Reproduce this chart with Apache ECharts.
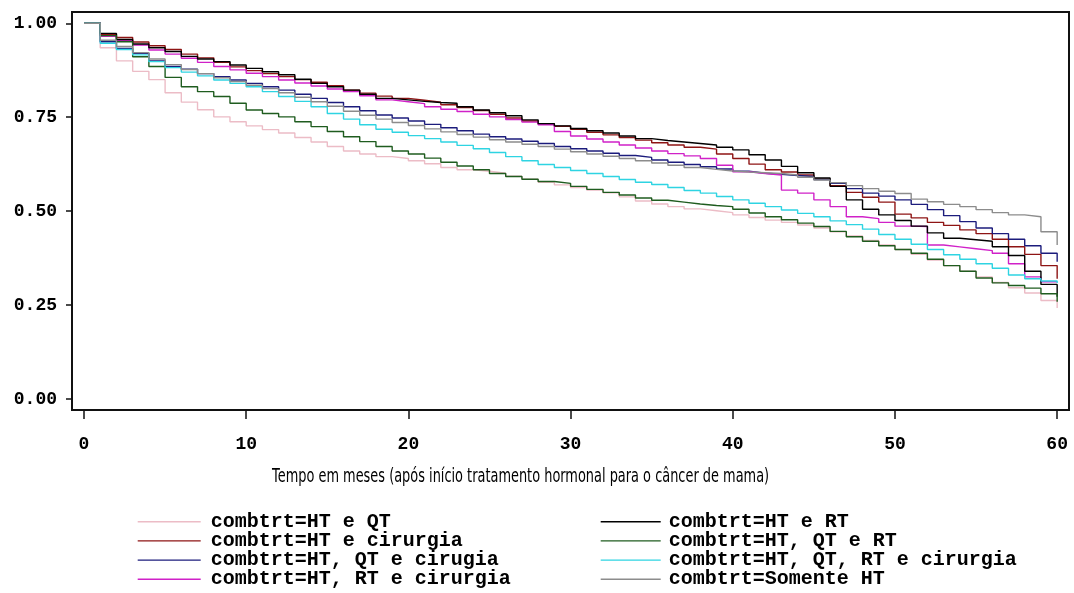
<!DOCTYPE html>
<html>
<head>
<meta charset="utf-8">
<script src="https://cdn.jsdelivr.net/npm/echarts@6/dist/echarts.min.js"></script>
<style>
html,body{margin:0;padding:0;background:#fff;}
#chart{width:1074px;height:593px;}
</style>
</head>
<body>
<div id="chart"></div>
<script>
// ---- data ----
const months = [0,1,2,3,4,5,6,7,8,9,10,11,12,13,14,15,16,17,18,19,20,21,22,23,24,25,26,27,28,29,30,
  31,32,33,34,35,36,37,38,39,40,41,42,43,44,45,46,47,48,49,50,51,52,53,54,55,56,57,58,59,60];

const htQt = [1.0,0.935,0.900,0.872,0.850,0.815,0.790,0.770,0.751,0.738,0.727,0.717,0.708,0.696,0.684,0.672,0.660,0.652,0.645,0.640,0.634,
  0.626,0.616,0.610,0.606,0.601,0.593,0.585,0.577,0.570,0.563,0.556,0.549,0.538,0.527,0.519,0.512,0.506,0.501,0.496,0.490,
  0.483,0.476,0.470,0.463,0.455,0.445,0.434,0.422,0.410,0.398,0.385,0.370,0.355,0.340,0.325,0.310,0.296,0.282,0.262,0.242];

const htCir = [1.0,0.970,0.962,0.950,0.940,0.930,0.918,0.908,0.896,0.884,0.874,0.866,0.858,0.850,0.843,0.834,0.822,0.814,0.806,0.800,0.795,
  0.790,0.783,0.776,0.768,0.758,0.748,0.740,0.732,0.726,0.718,0.710,0.703,0.696,0.689,0.682,0.676,0.670,0.665,0.652,0.640,
  0.625,0.610,0.604,0.596,0.585,0.568,0.550,0.537,0.524,0.492,0.482,0.470,0.462,0.450,0.440,0.425,0.405,0.385,0.355,0.320];

const htQtCir = [1.0,0.951,0.933,0.920,0.900,0.885,0.878,0.866,0.858,0.849,0.840,0.831,0.822,0.811,0.800,0.789,0.778,0.767,0.756,0.748,0.740,
  0.731,0.722,0.714,0.705,0.698,0.692,0.686,0.680,0.672,0.666,0.660,0.654,0.648,0.643,0.636,0.630,0.624,0.618,0.612,0.606,
  0.601,0.598,0.595,0.592,0.584,0.574,0.560,0.548,0.540,0.530,0.518,0.504,0.488,0.472,0.455,0.440,0.425,0.408,0.388,0.365];

const htRtCir = [1.0,0.965,0.955,0.942,0.929,0.918,0.907,0.896,0.885,0.876,0.867,0.858,0.849,0.841,0.833,0.825,0.818,0.807,0.796,0.791,0.786,
  0.778,0.771,0.765,0.758,0.751,0.744,0.737,0.730,0.712,0.700,0.692,0.684,0.676,0.668,0.660,0.653,0.647,0.640,0.622,0.605,
  0.600,0.596,0.556,0.548,0.530,0.512,0.485,0.480,0.470,0.460,0.459,0.410,0.405,0.400,0.395,0.388,0.360,0.325,0.312,0.312];

const htRt = [1.0,0.973,0.957,0.945,0.935,0.925,0.912,0.905,0.898,0.889,0.880,0.871,0.863,0.851,0.840,0.831,0.822,0.811,0.800,0.796,0.792,
  0.789,0.787,0.778,0.769,0.762,0.754,0.743,0.733,0.727,0.720,0.714,0.708,0.700,0.693,0.688,0.684,0.680,0.676,0.670,0.663,
  0.650,0.636,0.619,0.602,0.588,0.566,0.530,0.505,0.490,0.475,0.460,0.442,0.428,0.424,0.420,0.405,0.382,0.340,0.305,0.272];

const htQtRt = [1.0,0.967,0.951,0.911,0.885,0.856,0.831,0.818,0.805,0.787,0.769,0.760,0.751,0.738,0.725,0.712,0.698,0.685,0.672,0.660,0.652,
  0.641,0.630,0.620,0.610,0.600,0.592,0.585,0.579,0.574,0.566,0.558,0.550,0.543,0.535,0.529,0.524,0.519,0.515,0.512,0.505,
  0.495,0.485,0.477,0.468,0.459,0.446,0.432,0.420,0.408,0.398,0.388,0.372,0.355,0.340,0.322,0.309,0.302,0.295,0.280,0.259];

const htQtRtCir = [1.0,0.947,0.930,0.916,0.898,0.882,0.870,0.860,0.849,0.840,0.831,0.818,0.805,0.792,0.778,0.760,0.745,0.730,0.718,0.710,0.701,
  0.693,0.684,0.675,0.666,0.656,0.645,0.634,0.624,0.616,0.608,0.600,0.592,0.584,0.577,0.571,0.563,0.555,0.548,0.539,0.530,
  0.521,0.512,0.503,0.494,0.485,0.474,0.464,0.452,0.438,0.425,0.412,0.398,0.384,0.372,0.360,0.348,0.330,0.320,0.314,0.309];

const somenteHt = [1.0,0.955,0.938,0.922,0.905,0.890,0.877,0.866,0.855,0.845,0.835,0.826,0.815,0.803,0.791,0.779,0.766,0.755,0.745,0.736,0.728,
  0.719,0.711,0.704,0.697,0.690,0.684,0.678,0.672,0.665,0.658,0.652,0.646,0.640,0.634,0.628,0.622,0.616,0.611,0.607,0.604,
  0.602,0.600,0.596,0.590,0.583,0.576,0.568,0.560,0.553,0.547,0.532,0.525,0.518,0.512,0.504,0.496,0.490,0.485,0.445,0.410];

const seriesNames = ['combtrt=HT e QT','combtrt=HT e cirurgia','combtrt=HT, QT e cirugia','combtrt=HT, RT e cirurgia',
  'combtrt=HT e RT','combtrt=HT, QT e RT','combtrt=HT, QT, RT e cirurgia','combtrt=Somente HT'];
const seriesValues = [htQt, htCir, htQtCir, htRtCir, htRt, htQtRt, htQtRtCir, somenteHt];
const seriesColors = ['#ecbcc6','#8e1414','#1c1c7c','#d021c8','#000000','#1f5c1f','#2ed4e2','#8c8c8c'];

const xTicks = [0,10,20,30,40,50,60];
const yTicks = [0,0.25,0.5,0.75,1];
const xTitle = 'Tempo em meses (após início tratamento hormonal para o câncer de mama)';

// ---- chart ----
const chart = echarts.init(document.getElementById('chart'), null, {renderer:'canvas'});
const monoFont = '"Liberation Mono", "DejaVu Sans Mono", monospace';

const series = seriesNames.map((name, k) => ({
  name: name,
  type: 'line',
  step: 'end',
  symbol: 'none',
  data: months.map((t, i) => [t, seriesValues[k][i]]),
  lineStyle: {color: seriesColors[k], width: 1.4},
  itemStyle: {color: seriesColors[k]},
  z: 2 + k
}));

const legendBase = {
  orient: 'vertical',
  height: 200,
  padding: 0,
  itemHeight: 20,
  itemGap: -0.8,
  itemStyle: {opacity: 0},
  lineStyle: {width: 1.4},
  textStyle: {fontFamily: monoFont, fontWeight: 'bold', fontSize: 20, color: '#000'},
  selectedMode: false
};

chart.setOption({
  animation: false,
  backgroundColor: '#fff',
  graphic: [{
    type: 'text',
    x: 272,
    y: 477,
    scaleX: 0.68,
    silent: true,
    style: {
      text: xTitle,
      fontFamily: '"DejaVu Sans", sans-serif',
      fontSize: 19,
      fill: '#000',
      align: 'left',
      verticalAlign: 'middle'
    }
  }],
  grid: {
    left: 72, right: 5, top: 12, bottom: 183,
    show: true, borderColor: '#111', borderWidth: 2, backgroundColor: 'transparent'
  },
  xAxis: {
    type: 'value',
    min: -0.74, max: 60.73,
    axisLine: {show: true, onZero: false, lineStyle: {color: '#111', width: 2}},
    axisTick: {show: true, length: 9, customValues: xTicks, lineStyle: {color: '#111', width: 1.5}},
    axisLabel: {customValues: xTicks, margin: 25, fontFamily: monoFont, fontWeight: 'bold', fontSize: 18, color: '#000'},
    splitLine: {show: false}
  },
  yAxis: {
    type: 'value',
    min: -0.0293, max: 1.030,
    axisLine: {show: true, onZero: false, lineStyle: {color: '#111', width: 2}},
    axisTick: {show: true, length: 6, customValues: yTicks, lineStyle: {color: '#111', width: 1.5}},
    axisLabel: {customValues: yTicks, margin: 15, fontFamily: monoFont, fontWeight: 'bold', fontSize: 18, color: '#000',
      formatter: v => v.toFixed(2)},
    splitLine: {show: false}
  },
  legend: [
    Object.assign({}, legendBase, {left: 137, top: 511.7, itemWidth: 63,
      textStyle: Object.assign({}, legendBase.textStyle, {padding: [0, 0, 0, 5]}), data: seriesNames.slice(0, 4)}),
    Object.assign({}, legendBase, {left: 600, top: 511.7, itemWidth: 60,
      textStyle: Object.assign({}, legendBase.textStyle, {padding: [0, 0, 0, 3]}), data: seriesNames.slice(4)})
  ],
  series: series
});
</script>
</body>
</html>
